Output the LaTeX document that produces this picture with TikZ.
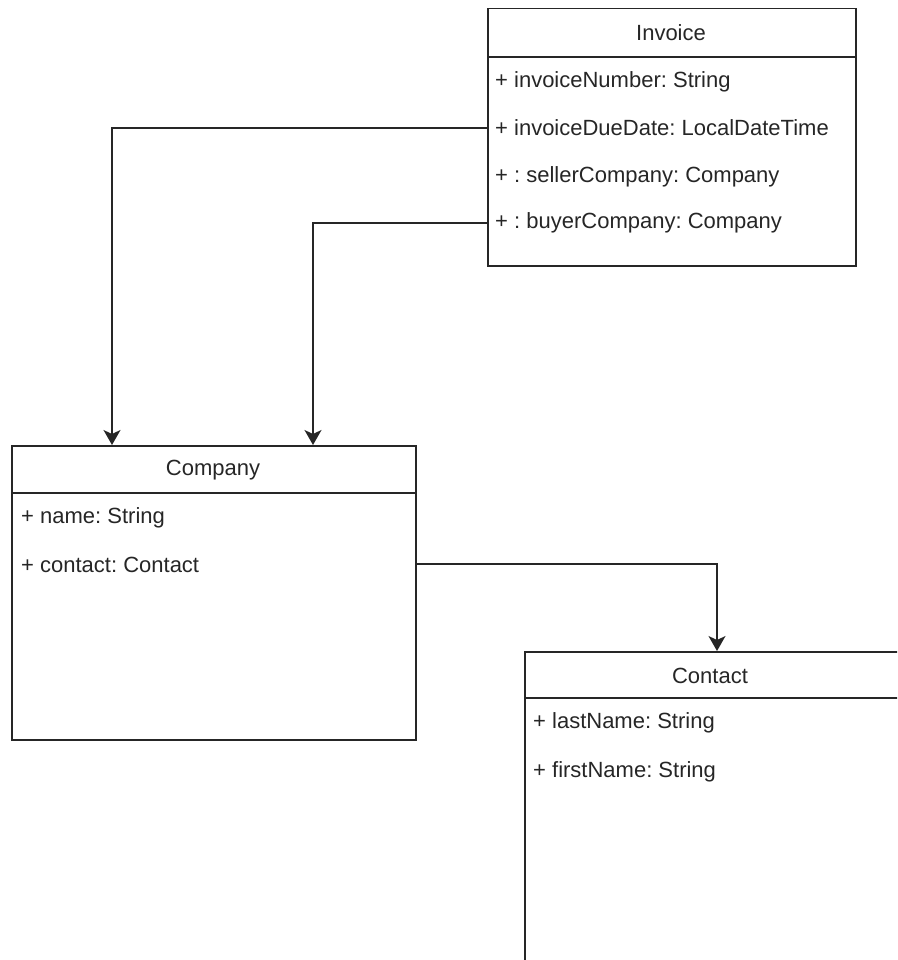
\documentclass[tikz,border=0pt]{standalone}
\usepackage{fontspec}
\setmainfont{Liberation Sans}
\usetikzlibrary{arrows.meta}
\begin{document}
\frenchspacing
\begin{tikzpicture}[x=1pt,y=-1pt,
  box/.style={draw=black!85, line width=1.5pt, anchor=north west, inner sep=0pt, rectangle},
  sep/.style={draw=black!85, line width=1.5pt},
  hdr/.style={font=\fontsize{22}{26}\selectfont, text=black!85, inner sep=0pt},
  attr/.style={anchor=west, font=\fontsize{22}{26}\selectfont, text=black!85, inner sep=0pt},
  conn/.style={draw=black!85, line width=1.3pt, -{Stealth[length=15pt,width=17pt,inset=4pt]}}]
\useasboundingbox (0,0) rectangle (897,960);
\clip (0,0) rectangle (897,960);
% Invoice
\node[box, minimum width=368pt, minimum height=257pt] (invoice) at (487,8) {};
\draw[sep] (487,57) -- (855,57);
\node[hdr] (invh) at (671,33) {Invoice};
\node[attr] (inv1) at (495,82) {+ invoiceNumber: String};
\node[attr] (inv2) at (495,128) {+ invoiceDueDate: LocalDateTime};
\node[attr] (inv3) at (495,177) {+ : sellerCompany: Company};
\node[attr] (inv4) at (495,223) {+ : buyerCompany: Company};
% Company
\node[box, minimum width=404pt, minimum height=294pt] (company) at (11,445) {};
\draw[sep] (11,493) -- (415,493);
\node[hdr] (comph) at (213,470) {Company};
\node[attr] (comp1) at (21,518) {+ name: String};
\node[attr] (comp2) at (21,565) {+ contact: Contact};
% Contact
\node[box, minimum width=380pt, minimum height=340pt] (contact) at (524,651) {};
\draw[sep] (524,698) -- (904,698);
\node[hdr] (conth) at (710,676) {Contact};
\node[attr] (cont1) at (533,723) {+ lastName: String};
\node[attr] (cont2) at (533,772) {+ firstName: String};
% connectors
\coordinate (c1) at (112,128);
\coordinate (c2) at (313,223);
\coordinate (c3) at (717,564);
\draw[conn] (invoice.west |- c1) -- (c1) -- (c1 |- company.north);
\draw[conn] (invoice.west |- c2) -- (c2) -- (c2 |- company.north);
\draw[conn] (company.east |- c3) -- (c3) -- (c3 |- contact.north);
\end{tikzpicture}
\end{document}
